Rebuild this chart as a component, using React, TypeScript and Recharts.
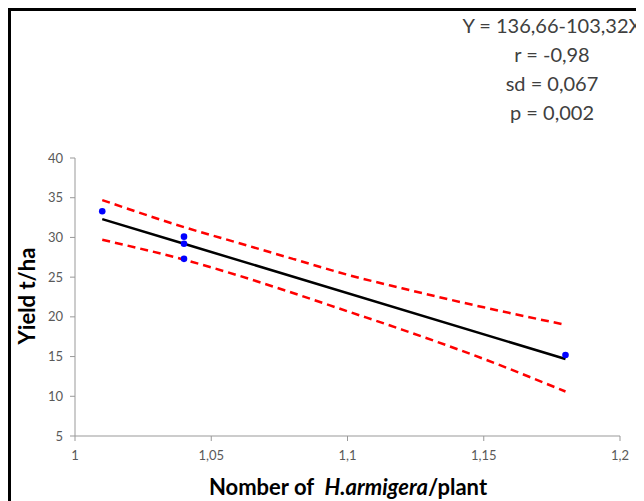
import React from 'react'
import { ComposedChart, Line, Scatter, XAxis, YAxis } from 'recharts'

// observed points (H. armigera per plant vs yield)
const obsX = [1.01, 1.04, 1.04, 1.04, 1.18]
const obsY = [33.3, 30.1, 29.2, 27.3, 15.2]

// fitted line Y = 136,66 - 103,32X
const fitX = [1.01, 1.04, 1.18]
const fitY = [32.3, 29.2, 14.7]

// confidence band
const bandX = [1.01, 1.04, 1.06, 1.08, 1.1, 1.12, 1.15, 1.18]
const upperY = [34.7, 31.3, 29.3, 27.3, 25.3, 23.6, 21.2, 19.0]
const lowerY = [29.7, 27.2, 25.2, 23.0, 20.7, 18.4, 14.7, 10.6]

const xTicks = [1, 1.05, 1.1, 1.15, 1.2]
const yTicks = [5, 10, 15, 20, 25, 30, 35, 40]

const statLines = ['Y = 136,66-103,32X', 'r = -0,98', 'sd = 0,067', 'p = 0,002']

const points = obsX.map((x, i) => ({ x, y: obsY[i] }))
const fit = fitX.map((x, i) => ({ x, y: fitY[i] }))
const upper = bandX.map((x, i) => ({ x, y: upperY[i] }))
const lower = bandX.map((x, i) => ({ x, y: lowerY[i] }))

const font = 'Lato, "Open Sans", sans-serif'
const axisGrey = '#999999'
const tickStyle = { fill: '#595959', fontSize: 13, fontFamily: font }
const comma = (v: number) => String(v).replace('.', ',')

const Dot = (p: any) => <circle cx={p.cx} cy={p.cy} r={3.3} fill="#0000ff" />

export default function App() {
  return (
    <div style={{ position: 'relative', width: 636, height: 493, overflow: 'hidden', fontFamily: font }}>
      <div
        style={{
          position: 'absolute', left: 0, top: 0, width: 700, height: 600,
          borderLeft: '3px solid #000', borderTop: '3px solid #000',
        }}
      />
      <div style={{ position: 'absolute', left: 0, top: 0 }}>
        <ComposedChart width={636} height={493} margin={{ top: 150, right: 24, left: 27, bottom: 35 }}>
          <XAxis
            type="number"
            dataKey="x"
            domain={[1, 1.2]}
            ticks={xTicks}
            tickFormatter={comma}
            allowDataOverflow
            height={30}
            stroke={axisGrey}
            tick={tickStyle}
            tickSize={5}
            tickMargin={10}
          />
          <YAxis
            type="number"
            dataKey="y"
            domain={[5, 40]}
            ticks={yTicks}
            width={40}
            stroke={axisGrey}
            tick={tickStyle}
            tickSize={5}
            tickMargin={7}
          />
          <Line data={upper} dataKey="y" type="monotone" stroke="#ff0000" strokeWidth={2.5}
            strokeDasharray="8 5" dot={false} isAnimationActive={false} />
          <Line data={lower} dataKey="y" type="monotone" stroke="#ff0000" strokeWidth={2.5}
            strokeDasharray="8 5" dot={false} isAnimationActive={false} />
          <Line data={fit} dataKey="y" type="linear" stroke="#000" strokeWidth={2.5}
            dot={false} isAnimationActive={false} />
          <Scatter data={points} dataKey="y" shape={Dot} isAnimationActive={false} />
        </ComposedChart>
      </div>
      <div
        style={{
          position: 'absolute', left: 18, top: 288, transform: 'translate(-50%, -50%) rotate(-90deg)',
          fontSize: 22, fontWeight: 700, color: '#000', whiteSpace: 'nowrap',
        }}
      >
        Yield t/ha
      </div>
      <div
        style={{
          position: 'absolute', left: 340, top: 478, transform: 'translate(-50%, -50%)',
          fontSize: 22, fontWeight: 700, color: '#000', whiteSpace: 'pre',
        }}
      >
        {'Nomber of  '}<i>H.armigera</i>{'/plant'}
      </div>
      <div
        style={{
          position: 'absolute', left: 424, top: 3, width: 240, textAlign: 'center',
          fontSize: 20, lineHeight: '29px', color: '#404040', whiteSpace: 'nowrap',
        }}
      >
        {statLines.map((s) => <div key={s}>{s}</div>)}
      </div>
    </div>
  )
}
